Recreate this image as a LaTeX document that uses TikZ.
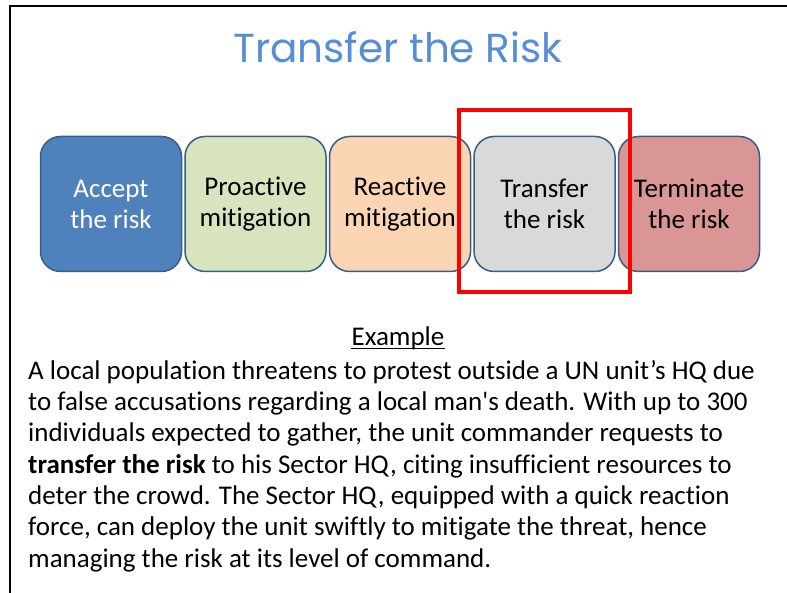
\documentclass[tikz,border=0pt]{standalone}
\usepackage{fontspec}
\setmainfont{Carlito}[Ligatures={NoCommon}]
\newfontfamily\titlefont{Poppins}
\definecolor{titleblue}{RGB}{85, 142, 213}
\definecolor{edgeblue}{RGB}{56, 93, 138}
\definecolor{acceptblue}{RGB}{79, 129, 189}
\definecolor{proactgreen}{RGB}{215, 228, 189}
\definecolor{reactpeach}{RGB}{252, 213, 181}
\definecolor{transgrey}{RGB}{217, 217, 217}
\definecolor{termred}{RGB}{217, 150, 148}
\usetikzlibrary{positioning}

\tikzset{
  riskbox/.style={draw=edgeblue, line width=1.5pt, rounded corners=20pt,
    minimum width=141pt, minimum height=135pt, align=center,
    font=\fontsize{27}{31}\selectfont},
}

\begin{document}
\begin{tikzpicture}[x=1pt, y=-1pt, node distance=2pt]
  \useasboundingbox (0, 0) rectangle (787, 593);
  \draw[line width=2pt] (9, 6.5) -- (787, 6.5);
  \draw[line width=2pt] (10, 6) -- (10, 593);

  \node[font=\titlefont\fontsize{40.5}{50}\selectfont, titleblue, anchor=base] (title) at (398, 63) {Transfer the Risk};

  % the five ways to treat a risk
  \node[riskbox, fill=acceptblue, text=white] (accept) at (111, 204) {Accept\\the risk};
  \node[riskbox, fill=proactgreen, right=of accept] (proactive) {Proactive\\mitigation};
  \node[riskbox, fill=reactpeach, right=of proactive] (reactive) {Reactive\\mitigation};
  \node[riskbox, fill=transgrey, right=of reactive] (transfer) {Transfer\\the risk};
  \node[riskbox, fill=termred, right=of transfer] (terminate) {Terminate\\the risk};

  \draw[line width=4pt, red] (459, 110) rectangle (630, 292);

  \node[font=\fontsize{27}{31.3}\selectfont, anchor=base, inner sep=0pt] (example) at (398, 346) {Example};
  \draw[line width=1pt] ([yshift=-3pt]example.base west) -- ([yshift=-3pt]example.base east);

  % base of a multi-line node is its last line
  \node[font=\fontsize{27}{31.3}\selectfont, anchor=base west, align=left, inner sep=0pt] (story) at (28, 567)
    {A local population threatens to protest outside a UN unit’s HQ due\\
     to false accusations regarding a local man\textquotesingle s death. With up to 300\\
     individuals expected to gather, the unit commander requests to\\
     \textbf{transfer the risk} to his Sector HQ, citing insufficient resources to\\
     deter the crowd. The Sector HQ, equipped with a quick reaction\\
     force, can deploy the unit swiftly to mitigate the threat, hence\\
     managing the risk at its level of command.};
\end{tikzpicture}
\end{document}
